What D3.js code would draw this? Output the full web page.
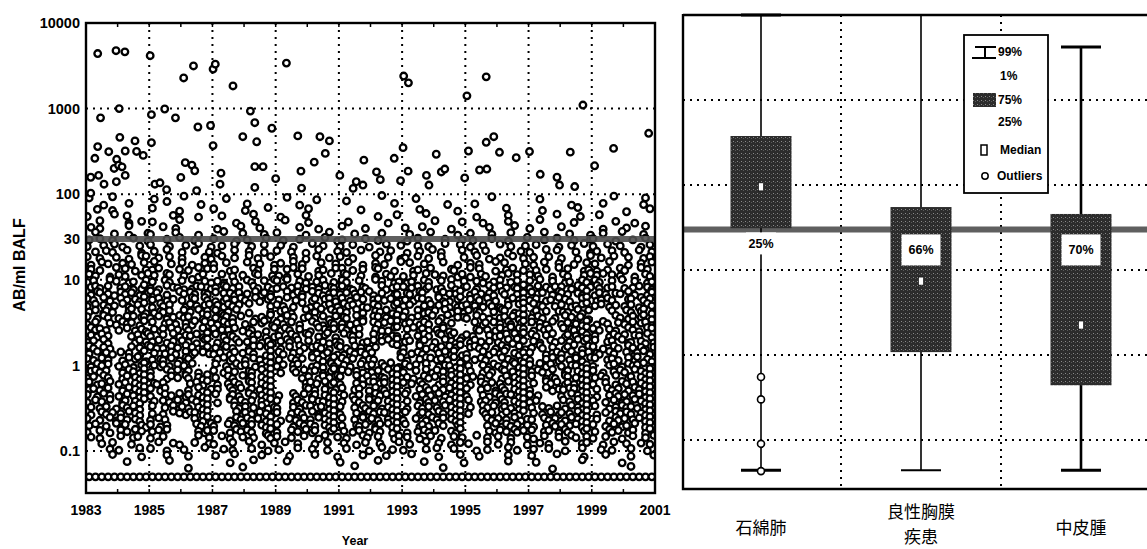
<!DOCTYPE html>
<html>
<head>
<meta charset="utf-8">
<script src="https://cdn.jsdelivr.net/npm/d3@7"></script>
<style>
  body { margin: 0; background: #fff; }
  .num { font-family: 'Liberation Sans', Arial, sans-serif; font-weight: bold; }
  .cjk { font-family: 'Noto Sans CJK JP', sans-serif; }
</style>
</head>
<body>
<svg id="chart" width="1147" height="549"></svg>
<script>
// ---- left panel: AB/ml BALF by year ----
var yearTicks = [1983, 1985, 1987, 1989, 1991, 1993, 1995, 1997, 1999, 2001];
var valueTicks = [10000, 1000, 100, 30, 10, 1, 0.1];
var gridValues = [1000, 100, 10, 1, 0.1];
var limitValue = 0.05;   // detection limit row
var cutValue = 30;       // reference line

// scattered high values [year, AB/ml]
var upperPoints = [
    [1983.37, 4400], [1983.95, 4750], [1984.23, 4600], [1985.03, 4150], [1986.09, 2280], [1986.40, 3150],
    [1987.02, 2900], [1987.09, 3300], [1987.65, 1840], [1989.34, 3400],
    [1983.46, 780], [1984.05, 1000], [1985.07, 850], [1985.49, 990], [1985.83, 780], [1986.54, 610],
    [1986.94, 635], [1988.20, 935], [1988.34, 685], [1988.88, 590],
    [1984.07, 462], [1984.55, 420], [1983.37, 360], [1983.28, 263], [1983.72, 314], [1984.24, 320],
    [1984.60, 316], [1984.81, 284], [1985.07, 400], [1983.97, 256], [1983.89, 200], [1984.03, 218],
    [1984.14, 209], [1984.24, 166], [1983.96, 140], [1983.15, 158], [1983.40, 166], [1983.57, 131],
    [1986.14, 234], [1986.35, 219], [1986.44, 188], [1986.00, 157], [1987.02, 370], [1987.27, 176],
    [1987.24, 131], [1987.96, 470], [1988.40, 410], [1988.34, 210], [1988.60, 210], [1988.34, 120],
    [1989.00, 152], [1989.70, 480], [1990.40, 470], [1990.70, 420], [1990.57, 300], [1990.22, 237],
    [1989.80, 186], [1991.03, 166], [1983.15, 103], [1985.18, 131], [1985.34, 136], [1985.55, 113],
    [1986.50, 110], [1989.82, 118],
    [1993.05, 2400], [1993.20, 2000], [1995.66, 2350], [1995.05, 1410], [1998.72, 1100], [2000.80, 515],
    [1991.79, 250], [1993.03, 350], [1992.75, 263], [1994.08, 293], [1995.66, 404], [1995.90, 470],
    [1995.10, 320], [1996.08, 309], [1996.61, 267], [1997.03, 315], [1998.32, 310], [1999.69, 343],
    [1999.09, 215], [1993.19, 186], [1993.77, 166], [1993.85, 128], [1994.24, 182], [1994.35, 197],
    [1992.95, 144], [1992.19, 182], [1992.31, 148], [1994.98, 155], [1995.45, 192], [1995.68, 197],
    [1997.37, 171], [1997.90, 158], [1997.98, 128], [1998.46, 123], [1991.55, 140], [1991.45, 117],
    [1991.76, 128]
];

// the dense cloud, read off as a grid: one string per value level (high to low),
// one char per 0.2 year, '.' = no point, digit = small offset of the point inside its cell
var cloudLog0 = -1.19, cloudLogStep = 0.07, cloudYearStep = 0.2;
var cloudRows = [
    "4...6..... 2....7.... ..3....... .5....1... ......8... ..3....... ....6..... .2........ ...7....4.",
    "..2...5... ..8.....3. .....4.... ...2...... .9......5. .......3.. .4........ ......2... .5......3.",
    ".5..3..... 7...2..... 6....3..8. .....6.... ...4...... ..5.....2. ......7... ..3....8.. .....1...6",
    "3...7.4... ...5...2.. .4....7... 2...5..... ......3..6 ...8...... .2....5... ....7...3. .6........",
    "..6...2.5. 4...8..... ...2..5... .7...3.... .4.....2.. .....6...4 ..2...5... .8.....3.. ...5..2...",
    "5.3...8... ..6.3..... 2...7..4.. ...5..2... 7...3..... 4..6...2.. ...5...8.. 3....6.... .2...4..7.",
    ".7..4.2..5 3...6..2.. .8..5...3. 6...2...7. ..4...5... .3..7...2. 5...3..6.. ..7...4..2 .5..8...3.",
    "4.6.3..7.2 ..5.8..3.. 6..2.4..7. .3.5...8.2 4...6.3... 2.7...5..4 .3..6.2..8 ..4.7..3.5 6..2..4.7.",
    "3.5.72..4. 6..3.5.8.2 .4.7..3.6. 5.2..8.4.. 3.6.2..7.5 ..4.3.8..6 2.5..7.3.4 .6..2.5.8. 3.7.4..2.6",
    ".4.63.7.2. 5.8..3.6.4 2..7.5..3. 6.4.2.8..5 .3.7..4.6. 2.5.8.3..7 .4.6..2.5. 3.8.7..4.2 5..6.3.7.4",
    "6.3.5.2.87 .4.6.3..52 .7.4.8.3.6 ..5.2.7.4. 6.3..8.5.2 4.7.3.6..5 .8.2.4.7.3 5..6.3.2.8 .4.7.5..36",
    "2.74.5.3.6 8..4.62.5. 3.6..7.4.2 5.8.3..6.4 .7.2.5.3.8 .6.4..7.2. 5.3.8.6..4 2.7.5..3.6 4.8..2.5.7",
    "5.3.8.62.4 47..5.38.6 6.24..73.5 .58.6.24.7 7.35.86.2. .24.7..53. 8.6.2.47.3 .35.8.6.24 2.4.73.85.",
    "74.2.63.58 5.86.4.27. .7.35.86.4 42.7.35.8. 86.4.2.73. 35.8.64.27 2.73.58.6. 64.2.73.58 58.64.2.73",
    "36.85.24.7 4.73.68.52 52.4.73.68 68.52.47.3 73.6.85.24 24.73.68.5 .52.47.36. 68.5.24.73 73.68.5.24",
    "5737.46129 3185412762 48636.7351 3647252853 72053.8146 6472613815 62.8474539 3751662845 8346.34751",
    "2864173615 962.847353 7551648263 .827385146 3647815.23 5386.27449 2745183.36 7462863519 1635482.27",
    "6382.74519 4725.38683 1264738159 48.3926571 7285.46362 4276381159 58372.2746 3624851.79 2473.56836",
    "3751482.69 1836.27457 527368...3 632.914572 8462173.59 36.4758124 6428315.79 853.362479 4725.36184",
    "47263.5981 2536.74816 7148.2...3 571.823984 6382.54717 4.71368252 753.486219 265.543817 ...6.73591",
    "6284.37756 3725846.19 48637.2529 285.463717 5382.76419 64728.3955 3852.46719 473.385261 ...8427591",
    "37.5284619 7.46352985 2846.37591 6372.84153 4258.73699 46273815.. .726748359 7528.36419 284.637571",
    "8463.37251 5267483.71 6447253.18 2735.18546 7346.52289 58263471.. .534274976 2846.75319 6352.84187",
    "5274...368 3.68254719 7253.84612 4.73862591 8536.72143 2.47386591 63.5247819 7358.26416 4.27365481",
    "3681...274 4725.63189 2.68347251 5837.62414 3.62475819 4627.38516 2745.38196 52.7364859 7.46823512",
    "7352...648 6337485216 4863.27759 2.68457318 637425...9 3.82516749 5736284.71 4835.26917 62.7384515",
    "4826375.19 5.47382674 3627584.19 7358.24162 284736...5 6473.58291 3.82749516 6.25738147 5384.72693",
    "6374.28591 4537286... 5826.37419 4.73685129 736254...8 2.58746391 6473.85127 3.58264718 7.46382951",
    "2847.36159 5263748... 7.38462519 3657.24183 52.7468391 7368.25419 4.52736819 6827.35416 3.57284691",
    "5736.28419 3.847262.. 6274.53819 2.83746159 7452.36819 3.68274519 5.27386419 4738.26519 62.4738519",
    "3684.27519 6.27483519 4.73826519 ....362748 6.82745319 52.7364819 3648.27519 7.25386419 4738.26519",
    "7248.36519 536...4719 2.47386519 ....574826 3.52874619 6483.27519 2.73648519 5.84726319 3.62847519",
    "4637.28519 627...3815 5.83726419 ....863524 7.46285319 2.58364719 6.47283519 3.82547619 5.73628419",
    "6285.37419 3.74826519 7.26384519 4.83726519 5.36284719 7.36482519 3.52847619 64...38519 2.58364719",
    "3748.26519 5.63728419 2.84736519 6.27385419 4.73826519 5.28364719 7.46283519 36...74819 6.37248519",
    "5.3628471. 7.48263519 ...7364825 3.52874619 6.48372519 2.73648519 5.84726319 4.63728519 7.25846319",
    "2.7364851. 4.38527619 ...8263745 6.47382519 3.52847619 7.26384519 4.83627519 5.37264819 2.68473519",
    "6.3827451. 374....619 5.28473619 2.63748519 7.48263519 3.62847519 ...7364825 4.73628519 5.28364719",
    "47.3826.51 625....738 3.74826519 6.28473519 4.53627819 7.26384.59 ...4827365 2.58364719 6.37248.19",
    "3.62.7485. 478....526 6.28473.19 3.74826.59 5.36284.19 2.4736.519 ...5274836 7.46283.59 4.83627.19",
    "5.3..7.46. 3.6....8.4 .72.5.4.83 6.4.7.28.5 .3.84.6.27 5.2.7.3.64 .8.4.6.3.5 2.7.5.84.6 3.6.2.7.48",
    "..4.6..3.. .7.52..6.4 3..6.8.2.5 .7.4..3.6. 5.2.6.4..7 .3.8.5.2.6 4..7.3.6.2 .5.3.8..46 .2.7.4.5.3",
    "...5.3..7. 6.2..4..8. .5.3..6.2. 4..7.5..3. .6..2.8.4. 3..5.7..6. .2.4..8.3. 5..6.2..7. .4.3..6.2.",
    "....6...2. ..5...3... 4..7...5.. ..3...6..2 ...5...4.. .7...2...6 ..3...5... 4...7...2. ..6...3..5",
    "......4... ...6...... ..2...7... .5........ 3.....6... ...4.....2 ......5... .3......7. ....2.....",
    ".......... ......3... ....5..... .......... ..7....... ......4... .......... ...2...... ......6..."
];
// detection limit row: one char per 0.2 year
var limitRow = "oooooooooo oooooooooo oooooooooo oooooooooo oooooooooo oooooooooo oooooooooo oooooooooo oooooooooo";

// ---- right panel: box plot per diagnosis ----
var categories = ['石綿肺', '良性胸膜疾患', '中皮腫'];
var categoryLines = [['石綿肺'], ['良性胸膜', '疾患'], ['中皮腫']];
var p01 = [0.044, 0.044, 0.044];
var p99 = [10000, 10000, 4200];
var q1 = [31, 1.08, 0.44];
var q3 = [377, 55, 45.6];
var medians = [95, 7.4, 2.25];
var over30 = ['25%', '66%', '70%'];
var outliers = [[0, 0.55], [0, 0.30], [0, 0.09], [0, 0.043]];
var rightGrid = [1000, 100, 10, 1, 0.1];

var svg = d3.select('#chart');

// stipple for the dark boxes
var pat = svg.append('defs').append('pattern')
    .attr('id', 'stipple').attr('width', 4).attr('height', 4)
    .attr('patternUnits', 'userSpaceOnUse');
pat.append('rect').attr('width', 4).attr('height', 4).attr('fill', '#2c2c2c');
pat.append('rect').attr('x', 1).attr('y', 1).attr('width', 1).attr('height', 1).attr('fill', '#8a8a8a');
pat.append('rect').attr('x', 3).attr('y', 2).attr('width', 1).attr('height', 1).attr('fill', '#5a5a5a');

// ================= left =================
var x = d3.scaleLinear().domain([1983, 2001]).range([86, 655]);
var y = d3.scaleLog().domain([0.0324, 10000]).range([493, 23]);

var left = svg.append('g');
left.append('clipPath').attr('id', 'clipL').append('rect')
    .attr('x', 86).attr('y', 23).attr('width', 569).attr('height', 470);

left.append('g').selectAll('line.gy').data(gridValues).enter().append('line')
    .attr('x1', 86).attr('x2', 655).attr('y1', d => y(d)).attr('y2', d => y(d))
    .attr('stroke', '#000').attr('stroke-width', 2).attr('stroke-dasharray', '2,5');
left.append('g').selectAll('line.gx').data(yearTicks.slice(1, -1)).enter().append('line')
    .attr('y1', 23).attr('y2', 493).attr('x1', d => x(d)).attr('x2', d => x(d))
    .attr('stroke', '#000').attr('stroke-width', 2).attr('stroke-dasharray', '2,5');

var cloud = [];
cloudRows.forEach(function (row, i) {
    var r = cloudRows.length - 1 - i;
    row.replace(/ /g, '').split('').forEach(function (ch, c) {
        if (ch === '.' || c >= 90) return;
        var d = +ch;
        cloud.push([1983 + cloudYearStep * (c + 0.5 + ((d % 3) - 1) * 0.3),
            Math.pow(10, cloudLog0 + cloudLogStep * (r + (d - 4.5) / 10))]);
    });
});
limitRow.replace(/ /g, '').split('').forEach(function (ch, c) {
    if (ch !== '.') cloud.push([1983 + cloudYearStep * (c + 0.5), limitValue]);
});
var allPoints = cloud.concat(upperPoints);

left.append('g').attr('clip-path', 'url(#clipL)')
    .selectAll('circle').data(allPoints).enter().append('circle')
    .attr('cx', d => x(d[0])).attr('cy', d => y(d[1])).attr('r', 3.3)
    .attr('fill', '#fff').attr('stroke', '#000').attr('stroke-width', 2.3);

left.append('line').attr('x1', 86).attr('x2', 655).attr('y1', y(cutValue)).attr('y2', y(cutValue))
    .attr('stroke', '#4e4e4e').attr('stroke-width', 6).attr('opacity', 0.9);

// minor year ticks top and bottom
var minorYears = d3.range(1984, 2001, 1);
left.append('g').selectAll('line').data(minorYears).enter().append('line')
    .attr('x1', d => x(d)).attr('x2', d => x(d)).attr('y1', 23).attr('y2', 27)
    .attr('stroke', '#000').attr('stroke-width', 1.5);
left.append('g').selectAll('line').data(minorYears).enter().append('line')
    .attr('x1', d => x(d)).attr('x2', d => x(d)).attr('y1', 489).attr('y2', 493)
    .attr('stroke', '#000').attr('stroke-width', 1.5);

left.append('rect').attr('x', 86).attr('y', 23).attr('width', 569).attr('height', 470)
    .attr('fill', 'none').attr('stroke', '#000').attr('stroke-width', 2.4);

left.append('g').selectAll('text').data(valueTicks).enter().append('text')
    .attr('class', 'num').attr('x', 80).attr('y', d => y(d)).attr('dy', '0.36em')
    .attr('text-anchor', 'end').attr('font-size', 14.5).text(d => d);
left.append('g').selectAll('text').data(yearTicks).enter().append('text')
    .attr('class', 'num').attr('x', d => x(d)).attr('y', 515)
    .attr('text-anchor', 'middle').attr('font-size', 14).text(d => d);
left.append('text').attr('class', 'num').attr('x', 355).attr('y', 545)
    .attr('text-anchor', 'middle').attr('font-size', 12.5).text('Year');
left.append('text').attr('class', 'num').attr('transform', 'translate(25,265) rotate(-90)')
    .attr('text-anchor', 'middle').attr('font-size', 16).text('AB/ml BALF');

// ================= right =================
var xb = d3.scaleBand().domain(categories).range([681, 1161]);
var yr = d3.scaleLog().domain([0.0272, 10000]).range([488, 15]);
var cx = i => xb(categories[i]) + xb.bandwidth() / 2;
var whiskerW = [1.6, 1.6, 2.6], capW = [3.2, 2.2, 3.2];

var right = svg.append('g');
right.append('g').selectAll('line').data(rightGrid).enter().append('line')
    .attr('x1', 683).attr('x2', 1161).attr('y1', d => yr(d)).attr('y2', d => yr(d))
    .attr('stroke', '#000').attr('stroke-width', 2).attr('stroke-dasharray', '2,5');
right.append('g').selectAll('line').data(categories.slice(1)).enter().append('line')
    .attr('x1', d => xb(d)).attr('x2', d => xb(d)).attr('y1', 15).attr('y2', 488)
    .attr('stroke', '#000').attr('stroke-width', 2).attr('stroke-dasharray', '2,5');
right.append('line').attr('x1', 683).attr('x2', 1161).attr('y1', yr(cutValue)).attr('y2', yr(cutValue))
    .attr('stroke', '#4e4e4e').attr('stroke-width', 6).attr('opacity', 0.9);

categories.forEach(function (c, i) {
    var g = right.append('g'), xc = cx(i), bw = 61;
    g.append('line').attr('x1', xc).attr('x2', xc).attr('y1', yr(p01[i])).attr('y2', yr(p99[i]))
        .attr('stroke', '#000').attr('stroke-width', whiskerW[i]);
    [p01[i], p99[i]].forEach(function (v) {
        g.append('line').attr('x1', xc - 20).attr('x2', xc + 20).attr('y1', yr(v)).attr('y2', yr(v))
            .attr('stroke', '#000').attr('stroke-width', capW[i]);
    });
    g.append('rect').attr('x', xc - bw / 2).attr('width', bw)
        .attr('y', yr(q3[i])).attr('height', yr(q1[i]) - yr(q3[i])).attr('fill', 'url(#stipple)');
    g.append('rect').attr('x', xc - 2.5).attr('width', 5).attr('y', yr(medians[i]) - 4).attr('height', 8)
        .attr('fill', '#fff').attr('stroke', '#000').attr('stroke-width', 0.6);
    // share above the reference line
    var below = q1[i] >= cutValue;
    var lw = below ? 30 : 39, lh = below ? 22 : 31, ly = yr(cutValue) + (below ? 3 : 5);
    g.append('rect').attr('x', xc - lw / 2).attr('y', ly).attr('width', lw).attr('height', lh).attr('fill', '#fff');
    g.append('text').attr('class', 'num').attr('x', xc).attr('y', ly + lh / 2).attr('dy', '0.36em')
        .attr('text-anchor', 'middle').attr('font-size', 12.5).text(over30[i]);
    var lines = categoryLines[i];
    lines.forEach(function (t, k) {
        g.append('text').attr('class', 'cjk').attr('x', xc)
            .attr('y', 528 + (k - (lines.length - 1) / 2) * 25 - (lines.length - 1) * 4).attr('dy', '0.36em')
            .attr('text-anchor', 'middle').attr('font-size', 17).text(t);
    });
});

right.append('g').selectAll('circle').data(outliers).enter().append('circle')
    .attr('cx', d => cx(d[0])).attr('cy', d => yr(d[1])).attr('r', 3.5)
    .attr('fill', '#fff').attr('stroke', '#000').attr('stroke-width', 1.6);

right.append('path').attr('d', 'M683,15 H1161 M683,14 V489 H1161')
    .attr('fill', 'none').attr('stroke', '#000').attr('stroke-width', 2.4);

// legend
var lg = right.append('g').attr('transform', 'translate(964,35)');
lg.append('rect').attr('width', 84).attr('height', 158).attr('fill', '#fff')
    .attr('stroke', '#000').attr('stroke-width', 1.8);
lg.append('path').attr('d', 'M11,12 H32 M21,12 V23 M8,23 H32').attr('stroke', '#000')
    .attr('stroke-width', 2).attr('fill', 'none');
lg.append('rect').attr('x', 9).attr('y', 58).attr('width', 23).attr('height', 14).attr('fill', 'url(#stipple)');
lg.append('rect').attr('x', 17).attr('y', 110).attr('width', 6).attr('height', 10)
    .attr('fill', '#fff').attr('stroke', '#000').attr('stroke-width', 1.5);
lg.append('circle').attr('cx', 21).attr('cy', 141).attr('r', 3.2)
    .attr('fill', '#fff').attr('stroke', '#000').attr('stroke-width', 1.5);
var legendText = [['99%', 34, 17], ['1%', 36, 41], ['75%', 34, 65], ['25%', 34, 87], ['Median', 36, 115], ['Outliers', 33, 141]];
lg.selectAll('text').data(legendText).enter().append('text').attr('class', 'num')
    .attr('x', d => d[1]).attr('y', d => d[2]).attr('dy', '0.36em').attr('font-size', 12).text(d => d[0]);
</script>
</body>
</html>
